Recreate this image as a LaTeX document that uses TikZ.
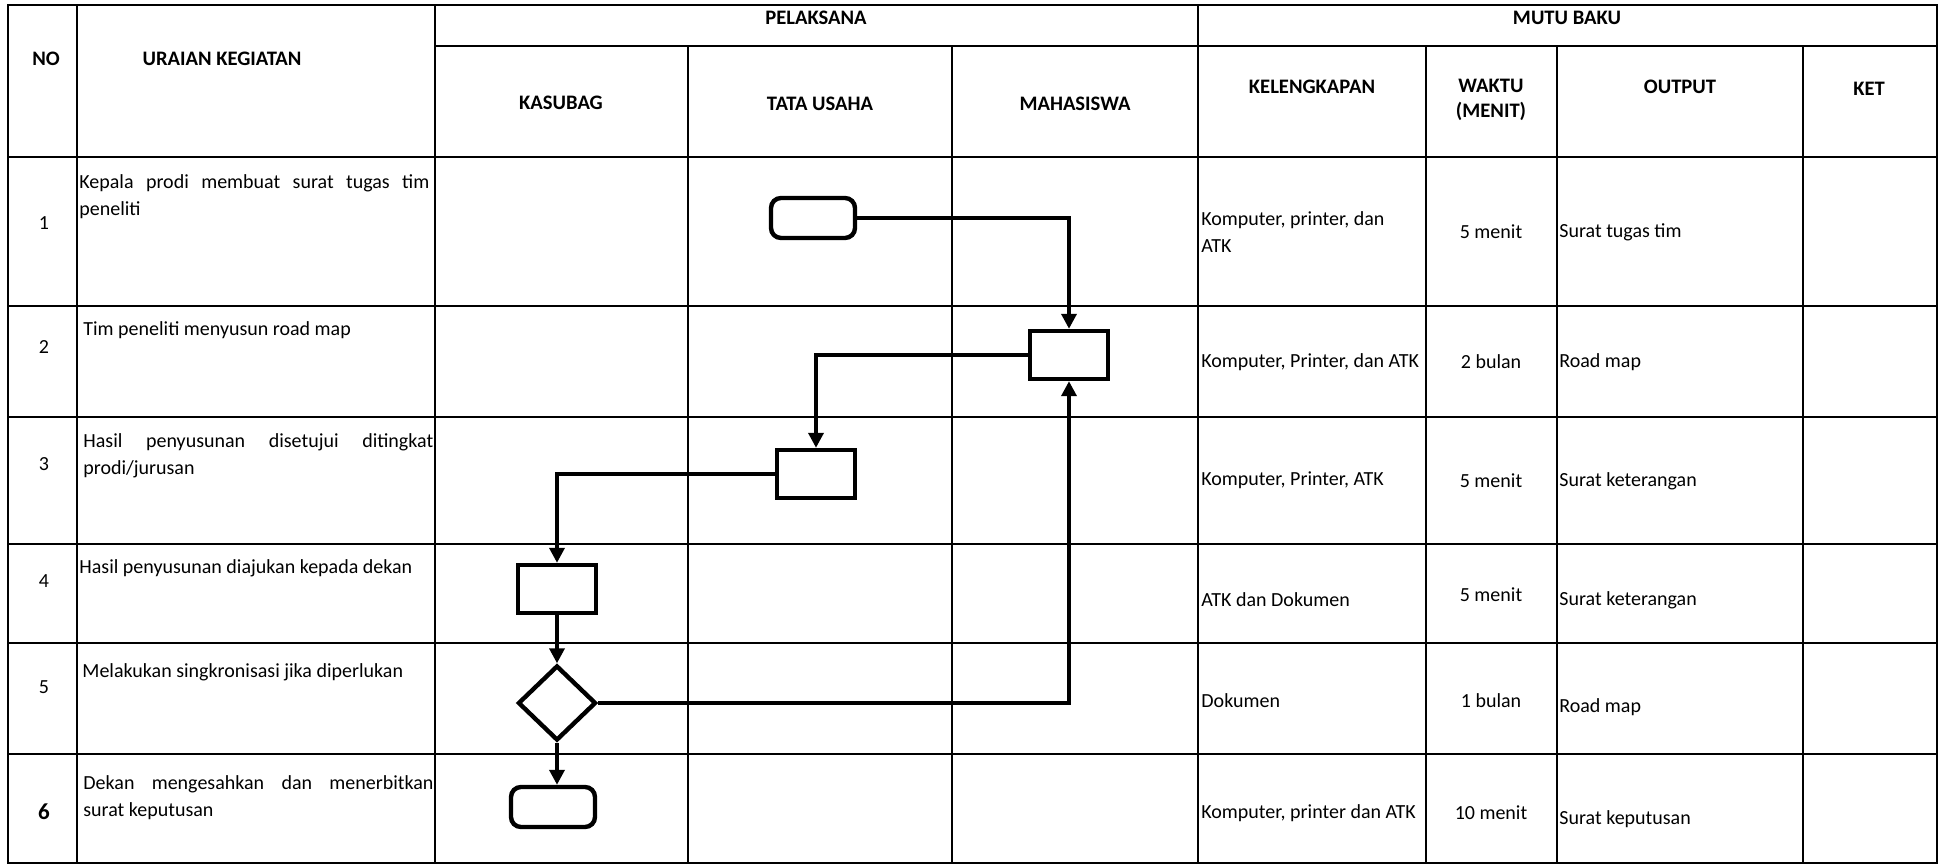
\documentclass[tikz,border=0pt]{standalone}
\usepackage{fontspec}
\setmainfont{Carlito}
\usetikzlibrary{positioning,arrows.meta,calc,shapes.geometric}
\hyphenpenalty=10000
\exhyphenpenalty=10000
\tolerance=10000

\begin{document}
\begin{tikzpicture}[
      x=0.5pt, y=-0.5pt,
      >={Triangle[length=7.5pt,width=7.5pt]},
      grid/.style ={line width=1.1pt, draw=black},
      head/.style ={font=\fontsize{10.3}{12.5}\selectfont\bfseries,
                    inner sep=0pt, align=center},
      desc/.style ={font=\fontsize{10}{13.5}\selectfont, inner sep=0pt,
                    anchor=north west, text width=175pt, align=justify},
      cell/.style ={font=\fontsize{10}{13.5}\selectfont, inner sep=0pt,
                    anchor=west, align=left},
      wkt/.style  ={font=\fontsize{10}{13.5}\selectfont, inner sep=0pt},
      num/.style  ={font=\fontsize{10}{12}\selectfont, inner sep=0pt},
      proc/.style ={draw, fill=white, line width=2.2pt, inner sep=0pt,
                    minimum width=39pt, minimum height=24pt},
      term/.style ={proc, rounded corners=5pt,
                    minimum width=42pt, minimum height=20pt},
      dec/.style  ={draw, fill=white, line width=2.2pt, diamond, aspect=1,
                    inner sep=0pt, minimum width=39pt, minimum height=37.5pt},
      arr/.style  ={->, line width=1.8pt}
    ]
    \useasboundingbox (0,0) rectangle (1944,865);
    % --- table grid ---
    \draw[grid] (8,5) rectangle (1937,863);
    \draw[grid] (435,46) -- (1937,46);
    \draw[grid] (8,157) -- (1937,157)  (8,306) -- (1937,306)
                (8,417) -- (1937,417)  (8,544) -- (1937,544)
                (8,643) -- (1937,643)  (8,754) -- (1937,754);
    \draw[grid] (77,5) -- (77,863)     (435,5) -- (435,863)
                (1198,5) -- (1198,863);
    \draw[grid] (688,46) -- (688,863)  (952,46) -- (952,863)
                (1426,46) -- (1426,863) (1557,46) -- (1557,863)
                (1803,46) -- (1803,863);
    % --- header ---
    \node[head] (hno)   at (46,59)     {NO};
    \node[head] (hura)  at (222,59)    {URAIAN KEGIATAN};
    \node[head] (hpel)  at (816,18)    {PELAKSANA};
    \node[head] (hmutu) at (1567,18)   {MUTU BAKU};
    \node[head] (hkas)  at (561,103)   {KASUBAG};
    \node[head] (htu)   at (820,104)   {TATA USAHA};
    \node[head] (hmhs)  at (1075,104)  {MAHASISWA};
    \node[head] (hkel)  at (1312,87)   {KELENGKAPAN};
    \node[head] (hwkt)  at (1491,100)  {WAKTU\\(MENIT)};
    \node[head] (hout)  at (1680,87)   {OUTPUT};
    \node[head] (hket)  at (1869,89)   {KET};
    % --- row numbers ---
    \node[num] (n1) at (44,223) {1};
    \node[num] (n2) at (44,347) {2};
    \node[num] (n3) at (44,464) {3};
    \node[num] (n4) at (44,581) {4};
    \node[num] (n5) at (44,687) {5};
    \node[num, font=\fontsize{11.5}{12}\selectfont\bfseries] (n6) at (44,812) {6};
    % --- uraian kegiatan ---
    \node[desc] (u1) at (79,174)
      {Kepala prodi membuat surat tugas tim peneliti};
    \node[desc] (u2) at (83,321) {Tim peneliti menyusun road map};
    \node[desc] (u3) at (83,433)
      {Hasil penyusunan disetujui ditingkat prodi/jurusan};
    \node[desc] (u4) at (79,559) {Hasil penyusunan diajukan kepada dekan};
    \node[desc] (u5) at (82,663) {Melakukan singkronisasi jika diperlukan};
    \node[desc] (u6) at (83,775)
      {Dekan mengesahkan dan menerbitkan surat keputusan};
    % --- kelengkapan ---
    \node[cell] (k1) at (1201,232) {Komputer, printer, dan\\ATK};
    \node[cell] (k2) at (1201,362) {Komputer, Printer, dan ATK};
    \node[cell] (k3) at (1201,480) {Komputer, Printer, ATK};
    \node[cell] (k4) at (1201,600) {ATK dan Dokumen};
    \node[cell] (k5) at (1201,701) {Dokumen};
    \node[cell] (k6) at (1201,813) {Komputer, printer dan ATK};
    % --- waktu ---
    \node[wkt] (w1) at (1491,232) {5 menit};
    \node[wkt] (w2) at (1491,362) {2 bulan};
    \node[wkt] (w3) at (1491,481) {5 menit};
    \node[wkt] (w4) at (1491,595) {5 menit};
    \node[wkt] (w5) at (1491,701) {1 bulan};
    \node[wkt] (w6) at (1491,813) {10 menit};
    % --- output ---
    \node[cell] (o1) at (1559,232) {Surat tugas tim};
    \node[cell] (o2) at (1559,362) {Road map};
    \node[cell] (o3) at (1559,481) {Surat keterangan};
    \node[cell] (o4) at (1559,600) {Surat keterangan};
    \node[cell] (o5) at (1559,707) {Road map};
    \node[cell] (o6) at (1559,819) {Surat keputusan};
    % --- flow symbols ---
    \node[term] (mulai)   at (813,218)  {};
    \node[proc] (roadmap) at (1069,355) {};
    \node[proc] (setuju)  at (816,474)  {};
    \node[proc] (ajukan)  at (557,589)  {};
    \node[dec]  (sinkron) at (557,703)  {};
    \node[term] (sahkan)  at (553,807)  {};
    % --- arrows ---
    \draw[arr] (mulai.east) -| (roadmap.north);
    \draw[arr] (roadmap.west) -| (setuju.north);
    \draw[arr] (setuju.west) -| (ajukan.north);
    \draw[arr] (ajukan) -- (sinkron);
    \draw[arr] (sinkron.east) -| (roadmap.south);
    \draw[arr] (sinkron.south) -- (sinkron.south |- sahkan.north);
  \end{tikzpicture}
\end{document}
